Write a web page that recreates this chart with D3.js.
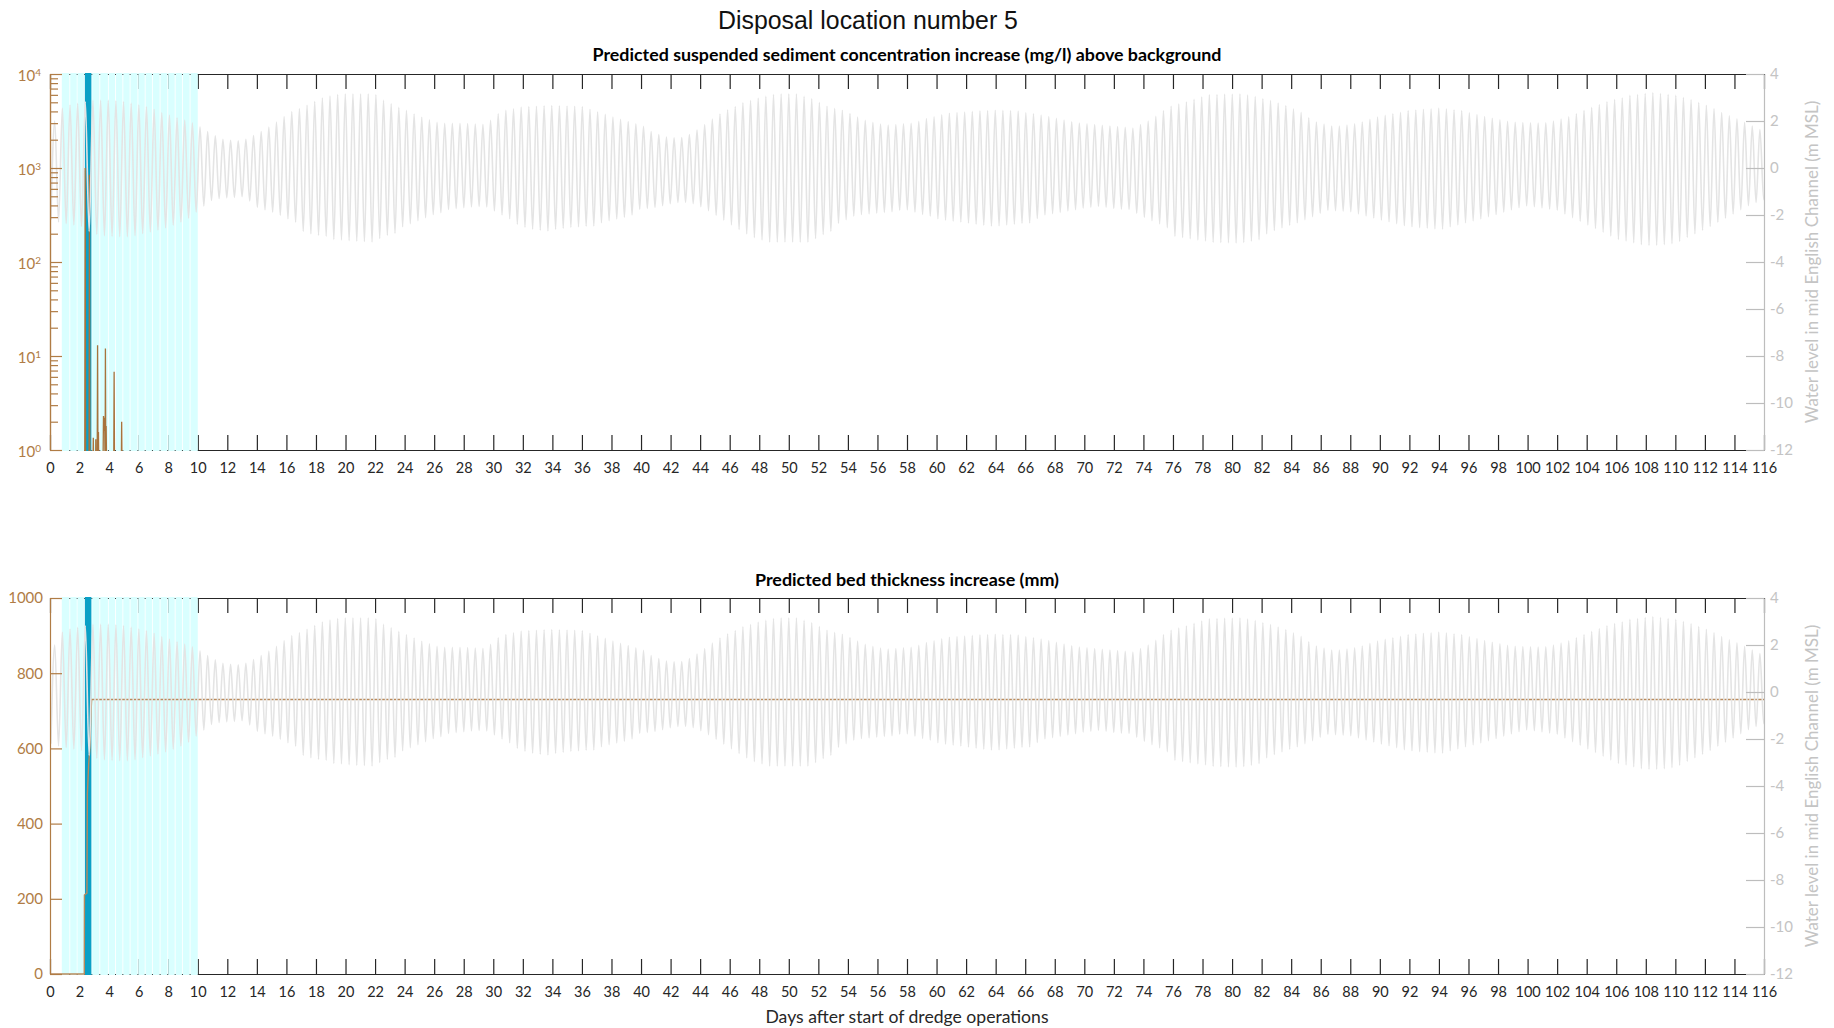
<!DOCTYPE html>
<html>
<head>
<meta charset="utf-8">
<script src="https://cdn.jsdelivr.net/npm/d3@7"></script>
<style>
  html, body { margin: 0; padding: 0; background: #ffffff; }
  svg { display: block; }
</style>
</head>
<body>
<svg id="chart" width="1834" height="1028"></svg>
<script>
// ---------- tick values ----------
const dayTicks = d3.range(0, 117, 2);
const sscMajorTicks = [1, 10, 100, 1000, 10000];
const sscMinorTicks = [2,3,4,5,6,7,8,9, 20,30,40,50,60,70,80,90, 200,300,400,500,600,700,800,900, 2000,3000,4000,5000,6000,7000,8000,9000];
const bedTicks = [0, 200, 400, 600, 800, 1000];
const levelTicks = [-12, -10, -8, -6, -4, -2, 0, 2, 4];

// ---------- disposal periods (days after start) ----------
const disposalStart = [0.80, 1.37, 1.86, 2.36, 2.86, 3.40, 3.98, 4.46, 4.96, 5.45, 5.98, 6.47, 6.96, 7.48, 8.00, 8.50, 8.99, 9.51];
const disposalEnd   = [1.31, 1.81, 2.31, 2.80, 3.34, 3.92, 4.40, 4.90, 5.39, 5.92, 6.41, 6.90, 7.42, 7.94, 8.44, 8.93, 9.45, 10.00];
// disposal at location 5
const siteStart = [2.36];
const siteEnd   = [2.80];

// ---------- suspended sediment concentration increase (mg/l) ----------
const sscDay   = [0, 2.35, 2.38, 2.41, 2.64, 2.67, 2.70, 2.90, 2.93, 2.96, 3.08, 3.10, 3.12,
                  3.19, 3.22, 3.25, 3.28, 3.31, 3.58, 3.62, 3.66, 3.70, 3.73, 3.75, 3.78, 3.80, 3.84,
                  4.31, 4.34, 4.37, 4.82, 4.85, 4.88, 116];
const sscValue = [0.5, 0.5, 1000, 0.5, 0.5, 850, 0.5, 0.5, 1.35, 0.5, 0.5, 1.3, 0.5,
                  0.5, 13, 0.5, 1.55, 0.5, 0.5, 2.3, 1.6, 2.2, 0.5, 12, 0.5, 1.8, 0.5,
                  0.5, 6.8, 0.5, 0.5, 2.0, 0.5, 0.5];

// ---------- bed thickness increase (mm) ----------
const bedDay   = [0, 2.32, 2.33, 2.50, 2.53, 2.62, 2.70, 2.78, 2.82, 116];
const bedValue = [0, 0, 210, 215, 480, 560, 600, 700, 730, 730];

// ---------- water level in mid English Channel (m MSL) ----------
// successive high waters; each low water precedes its high water by half a tide
const tideFirstHigh = 0.32;   // day of first high water
const tidePeriod = 0.5175;    // semi-diurnal tide, days
const highWater = [
  2.00,2.55,2.68,2.75,2.82,2.88,2.88,2.88,2.85,2.82, 2.75,2.68,2.60,2.50,2.36,2.25,2.14,2.04,1.92,1.75,
  1.55,1.37,1.22,1.18,1.16,1.22,1.38,1.55,1.74,1.95, 2.19,2.40,2.53,2.67,2.83,2.98,3.06,3.13,3.15,3.15,
  3.15,3.15,3.12,2.88,2.73,2.58,2.45,2.30,2.16,2.05, 1.94,1.90,1.90,1.90,1.89,1.87,1.86,2.03,2.31,2.45,
  2.52,2.59,2.61,2.63,2.65,2.66,2.65,2.64,2.63,2.61, 2.50,2.39,2.28,2.17,2.07,1.98,1.88,1.77,1.55,1.42,
  1.32,1.28,1.30,1.42,1.62,1.85,2.08,2.30,2.48,2.62, 2.77,2.87,2.97,3.05,3.13,3.15,3.15,3.15,3.05,2.94,
  2.78,2.63,2.54,2.46,2.32,2.17,2.03,1.94,1.87,1.83, 1.85,1.88,1.90,1.99,2.10,2.18,2.26,2.33,2.36,2.38,
  2.41,2.43,2.45,2.46,2.45,2.44,2.42,2.36,2.31,2.25, 2.19,2.11,2.04,1.97,1.91,1.88,1.85,1.82,1.79,1.76,
  1.73,1.70,1.85,2.00,2.20,2.44,2.63,2.72,2.81,2.92, 3.02,3.11,3.13,3.14,3.14,3.15,3.10,3.04,2.95,2.87,
  2.76,2.66,2.52,2.37,2.14,1.96,1.87,1.79,1.78,1.83, 1.88,1.96,2.07,2.17,2.24,2.31,2.37,2.44,2.47,2.50,
  2.52,2.55,2.52,2.48,2.44,2.35,2.27,2.19,2.12,2.05, 1.99,1.95,1.93,1.92,1.91,1.92,2.00,2.08,2.18,2.31,
  2.45,2.58,2.70,2.82,2.91,2.98,3.09,3.13,3.17,3.20, 3.17,3.13,3.09,3.00,2.90,2.78,2.67,2.53,2.36,2.22,
  2.09,1.94,1.79,1.64,1.45
];
const lowWater = [
  -2.20,-2.30,-2.37,-2.42,-2.49,-2.70,-2.82,-2.88,-2.91,-2.92, -2.92,-2.88,-2.79,-2.72,-2.64,-2.55,-2.43,-2.30,-2.14,-1.88,
  -1.62,-1.38,-1.30,-1.27,-1.25,-1.22,-1.40,-1.67,-1.78,-1.88, -2.02,-2.16,-2.31,-2.70,-2.80,-2.86,-2.90,-3.04,-3.06,-3.09,
  -3.11,-3.13,-3.15,-3.00,-2.86,-2.78,-2.50,-2.37,-2.24,-2.11, -1.98,-1.90,-1.76,-1.72,-1.69,-1.66,-1.64,-1.66,-1.83,-2.00,
  -2.16,-2.40,-2.53,-2.60,-2.65,-2.68,-2.61,-2.57,-2.53,-2.50, -2.48,-2.47,-2.33,-2.24,-2.17,-2.10,-2.00,-1.76,-1.72,-1.68,
  -1.60,-1.52,-1.47,-1.46,-1.52,-1.65,-1.82,-2.02,-2.22,-2.42, -2.62,-2.80,-2.96,-3.06,-3.15,-3.15,-3.15,-3.15,-3.15,-3.15,
  -3.00,-2.83,-2.70,-2.36,-2.20,-2.05,-1.98,-1.95,-1.92,-1.89, -1.86,-1.80,-1.78,-1.88,-1.98,-2.05,-2.16,-2.22,-2.26,-2.30,
  -2.34,-2.39,-2.43,-2.47,-2.46,-2.42,-2.39,-2.36,-2.34,-2.15, -2.00,-1.94,-1.89,-1.83,-1.77,-1.71,-1.67,-1.63,-1.67,-1.72,
  -1.75,-1.76,-1.93,-2.10,-2.24,-2.38,-2.54,-2.90,-2.96,-3.01, -3.06,-3.10,-3.16,-3.17,-3.18,-3.19,-3.17,-3.11,-3.05,-2.80,
  -2.66,-2.55,-2.44,-2.33,-2.20,-2.07,-1.93,-1.80,-1.82,-1.84, -1.86,-1.95,-2.04,-2.13,-2.22,-2.29,-2.37,-2.45,-2.50,-2.54,
  -2.56,-2.59,-2.60,-2.50,-2.42,-2.33,-2.25,-2.17,-2.07,-1.98, -1.88,-1.78,-1.69,-1.61,-1.65,-1.70,-1.75,-1.80,-1.96,-2.11,
  -2.27,-2.42,-2.58,-2.73,-2.89,-3.04,-3.10,-3.18,-3.26,-3.29, -3.28,-3.26,-3.22,-3.12,-2.95,-2.80,-2.65,-2.49,-2.31,-2.14,
  -1.96,-1.77,-1.60,-1.47,-1.35
];

// ---------- text ----------
const mainTitle = "Disposal location number 5";
const panelTitles = [
  "Predicted suspended sediment concentration increase (mg/l) above background",
  "Predicted bed thickness increase (mm)"
];
const xAxisTitle = "Days after start of dredge operations";
const levelAxisTitle = "Water level in mid English Channel (m MSL)";

// ---------- styles ----------
const INK = "#262626";
const BROWN = "#b07c45";
const LEVEL_GREY = "#bdbdbd";
const TIDE_LINE = "#e4e4e4";
const CYAN = "#d9ffff";
const TEAL = "#0aa0c6";
const FONT = "Lato, 'Open Sans', sans-serif";

const svg = d3.select("#chart");
const x = d3.scaleLinear().domain([0, 116]).range([50, 1764]);

const tidePoints = [];
highWater.forEach((hw, i) => {
  const tHigh = tideFirstHigh + i * tidePeriod;
  tidePoints.push({ t: tHigh - tidePeriod / 2, v: lowWater[i] });
  tidePoints.push({ t: tHigh, v: hw });
});

const panels = [
  { top: 74, bottom: 450, titleY: 54 },
  { top: 598, bottom: 974, titleY: 579 }
];

function fitText(sel, target) {
  const w = sel.node().getComputedTextLength();
  const fs = parseFloat(sel.attr("font-size"));
  sel.attr("font-size", (fs * target / w).toFixed(2));
}

function styleAxis(g, color) {
  g.select(".domain").attr("stroke", color).attr("stroke-width", 1.2);
  g.selectAll(".tick line").attr("stroke", color).attr("stroke-width", 1.2);
  g.selectAll(".tick text").attr("fill", color).attr("font-family", FONT);
}

panels.forEach((p, k) => {
  const g = svg.append("g");
  const yLevel = d3.scaleLinear().domain([-12, 4]).range([p.bottom, p.top]);

  const clipId = "clip" + k;
  svg.append("clipPath").attr("id", clipId)
    .append("rect").attr("x", x(0)).attr("y", p.top - 1)
    .attr("width", x(116) - x(0)).attr("height", p.bottom - p.top + 2);

  // day axes (bottom with labels, top ticks only)
  const xb = g.append("g").attr("transform", `translate(0,${p.bottom})`)
    .call(d3.axisBottom(x).tickValues(dayTicks).tickSizeInner(-15).tickSizeOuter(0).tickPadding(13));
  styleAxis(xb, INK);
  xb.selectAll(".tick text").attr("font-size", 14.5);
  const xt = g.append("g").attr("transform", `translate(0,${p.top})`)
    .call(d3.axisTop(x).tickValues(dayTicks).tickSizeInner(-15).tickSizeOuter(0).tickFormat(""));
  styleAxis(xt, INK);

  // disposal periods
  const data = g.append("g").attr("clip-path", `url(#${clipId})`);
  data.selectAll("rect.disposal").data(disposalStart).join("rect")
    .attr("class", "disposal")
    .attr("x", (d) => x(d)).attr("y", p.top - 1)
    .attr("width", (d, i) => x(disposalEnd[i]) - x(d))
    .attr("height", p.bottom - p.top + 2)
    .attr("fill", CYAN);
  data.selectAll("rect.site").data(siteStart).join("rect")
    .attr("class", "site")
    .attr("x", (d) => x(d)).attr("y", p.top - 1)
    .attr("width", (d, i) => x(siteEnd[i]) - x(d))
    .attr("height", p.bottom - p.top + 2)
    .attr("fill", TEAL);

  let yLeft;
  if (k === 0) {
    yLeft = d3.scaleLog().domain([1, 10000]).range([p.bottom, p.top]);
    const line = d3.line().x((d, i) => x(sscDay[i])).y((d) => yLeft(d));
    data.append("path").datum(sscValue).attr("d", line)
      .attr("fill", "none").attr("stroke", "#a8733c").attr("stroke-width", 1.3);
  } else {
    yLeft = d3.scaleLinear().domain([0, 1000]).range([p.bottom, p.top]);
    const line = d3.line().x((d, i) => x(bedDay[i])).y((d) => yLeft(d));
    data.append("path").datum(bedValue).attr("d", line)
      .attr("fill", "none").attr("stroke", "#b98a5c").attr("stroke-width", 1.4);
  }

  // water level
  const tideLine = d3.line().x((d) => x(d.t)).y((d) => yLevel(d.v)).curve(d3.curveMonotoneX);
  data.append("path").datum(tidePoints).attr("d", tideLine)
    .attr("fill", "none").attr("stroke", TIDE_LINE).attr("stroke-width", 1.6);

  // left axis
  if (k === 0) {
    const minor = g.append("g").attr("transform", `translate(${x(0)},0)`)
      .call(d3.axisLeft(yLeft).tickValues(sscMinorTicks).tickSizeInner(-8).tickSizeOuter(0).tickFormat(""));
    styleAxis(minor, BROWN);
    const major = g.append("g").attr("transform", `translate(${x(0)},0)`)
      .call(d3.axisLeft(yLeft).tickValues(sscMajorTicks).tickSizeInner(-12).tickSizeOuter(0).tickPadding(9));
    styleAxis(major, BROWN);
    major.selectAll(".tick text").each(function (d) {
      const t = d3.select(this).text(null).attr("font-size", 15).attr("dy", "0.45em");
      t.append("tspan").text("10");
      t.append("tspan").attr("dy", "-0.55em").attr("font-size", 10).text(Math.round(Math.log10(d)));
    });
  } else {
    const ax = g.append("g").attr("transform", `translate(${x(0)},0)`)
      .call(d3.axisLeft(yLeft).tickValues(bedTicks).tickSizeInner(-12).tickSizeOuter(0)
        .tickPadding(7).tickFormat((d) => String(d)));
    styleAxis(ax, BROWN);
    ax.selectAll(".tick text").attr("font-size", 15);
  }

  // right axis: water level
  const ar = g.append("g").attr("transform", `translate(${x(116)},0)`)
    .call(d3.axisRight(yLevel).tickValues(levelTicks).tickSizeInner(-18).tickSizeOuter(0)
      .tickPadding(6).tickFormat((d) => String(d)));
  styleAxis(ar, LEVEL_GREY);
  ar.selectAll(".tick text").attr("font-size", 15).attr("fill", "#c4c4c4");

  svg.append("text")
    .attr("transform", `translate(1811,${(p.top + p.bottom) / 2}) rotate(-90)`)
    .attr("text-anchor", "middle").attr("dominant-baseline", "central")
    .attr("font-family", FONT).attr("font-size", 17).attr("fill", "#c4c4c4")
    .text(levelAxisTitle);

  // panel title
  const pt = svg.append("text")
    .attr("x", 907).attr("y", p.titleY).attr("text-anchor", "middle")
    .attr("dominant-baseline", "central")
    .attr("font-family", FONT).attr("font-weight", "bold").attr("font-size", 16)
    .attr("fill", "#000").text(panelTitles[k]);
  fitText(pt, k === 0 ? 629 : 304);
});

const mt = svg.append("text")
  .attr("x", 868).attr("y", 20).attr("text-anchor", "middle").attr("dominant-baseline", "central")
  .attr("font-family", "'Liberation Sans', Arial, sans-serif").attr("font-size", 23)
  .attr("fill", "#111").text(mainTitle);
fitText(mt, 300);

const xt = svg.append("text")
  .attr("x", 907).attr("y", 1016).attr("text-anchor", "middle").attr("dominant-baseline", "central")
  .attr("font-family", FONT).attr("font-size", 16).attr("fill", INK)
  .text(xAxisTitle);
fitText(xt, 283);
</script>
</body>
</html>
